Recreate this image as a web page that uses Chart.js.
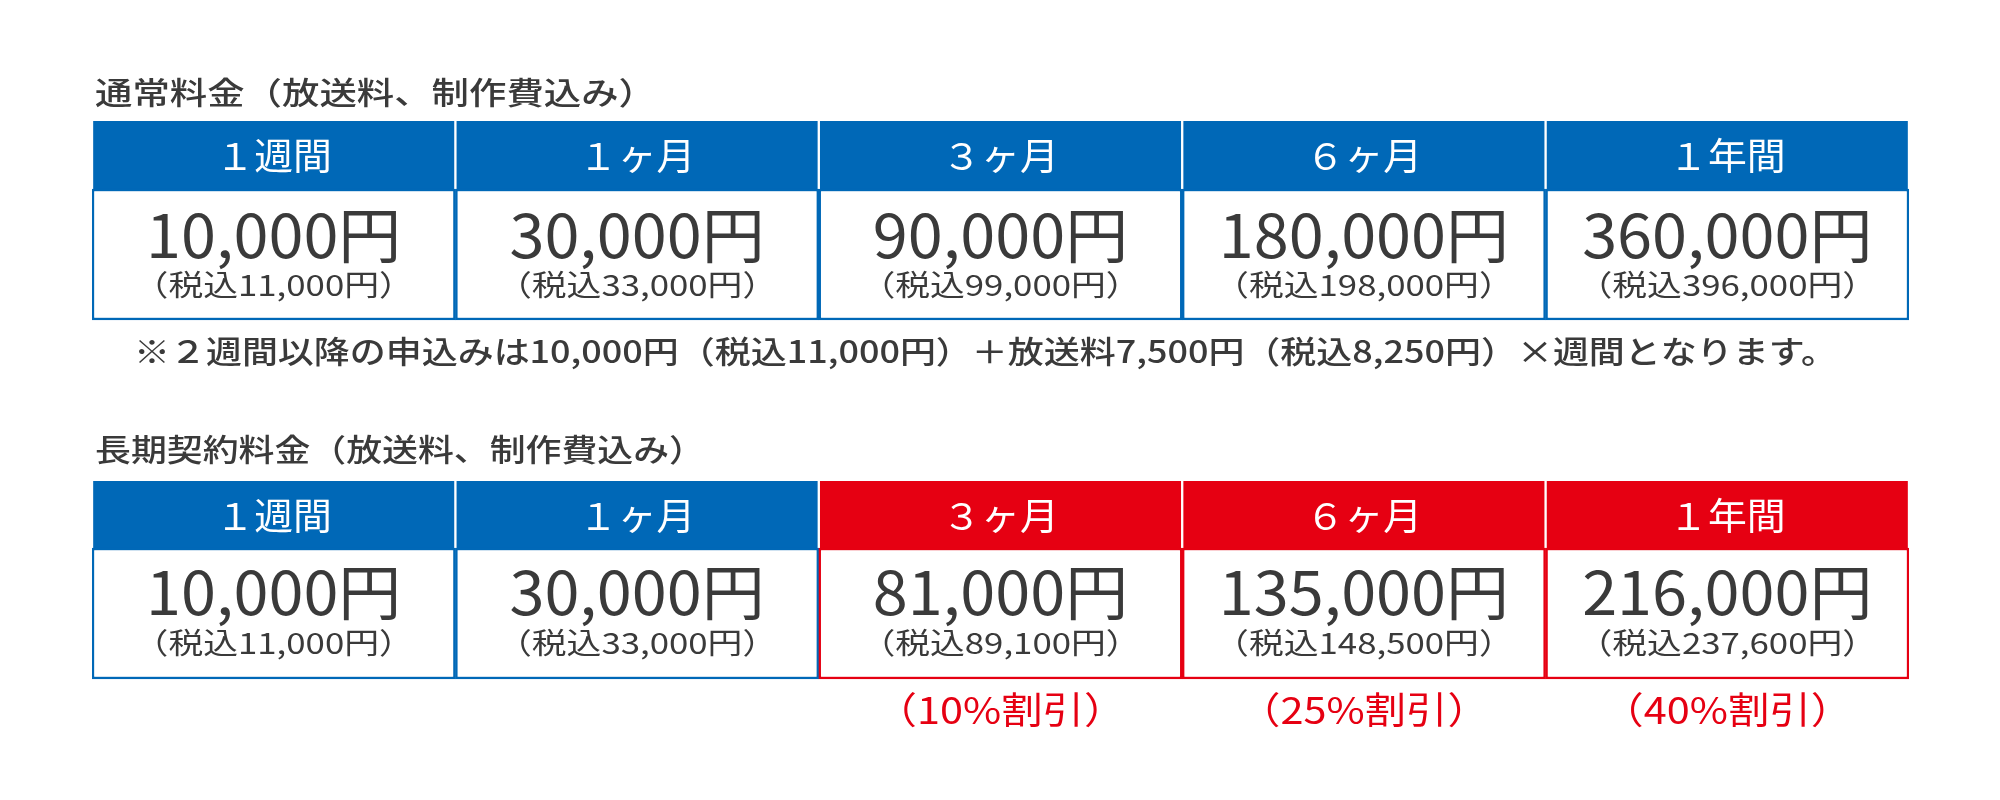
<!DOCTYPE html>
<html>
<head>
<meta charset="utf-8">
<script src="https://cdn.jsdelivr.net/npm/chart.js@4/dist/chart.umd.min.js"></script>
<style>
  body { margin: 0; background: #fff; }
  #wrap { width: 2000px; height: 800px; }
</style>
</head>
<body>
<div id="wrap"><canvas id="priceTable" width="2000" height="800"></canvas></div>
<script>
const periods = ["１週間", "１ヶ月", "３ヶ月", "６ヶ月", "１年間"];
const normalPrice = [10000, 30000, 90000, 180000, 360000];
const normalTax = [11000, 33000, 99000, 198000, 396000];
const longPrice = [10000, 30000, 81000, 135000, 216000];
const longTax = [11000, 33000, 89100, 148500, 237600];
const discounts = ["", "", "（10%割引）", "（25%割引）", "（40%割引）"];
const isDiscounted = [false, false, true, true, true];

const BLUE = "#0068b7";
const RED = "#e60012";
const TEXT = "#3a3a3a";
const FONT = "'Noto Sans CJK JP', 'Noto Sans', sans-serif";

const fmt = (n) => n.toLocaleString("en-US");

// row bands (y in px, scale reversed so 0 is the top)
const t1 = { top: 121, mid: 189, bottom: 320 };
const t2 = { top: 481, mid: 548, bottom: 679 };

const band = (a, b) => periods.map(() => [a, b]);
const longColor = isDiscounted.map((d) => (d ? RED : BLUE));

// text stretched horizontally by sx (the reference lettering is wide)
function wideText(c, text, x, y, sx) {
  c.save();
  c.translate(x, y);
  c.scale(sx, 1);
  c.fillText(text, 0, 0);
  c.restore();
}
function fitText(c, text, x, y, w) {
  wideText(c, text, x, y, w / c.measureText(text).width);
}

const tableText = {
  id: "tableText",
  afterDatasetsDraw(chart) {
    const c = chart.ctx;
    const x = chart.scales.x;
    const y = chart.scales.y;
    c.save();
    c.textBaseline = "middle";

    c.textAlign = "left";
    c.fillStyle = TEXT;
    c.font = "500 31px " + FONT;
    fitText(c, "通常料金（放送料、制作費込み）", 95, y.getPixelForValue(92), 561);
    fitText(c, "長期契約料金（放送料、制作費込み）", 95, y.getPixelForValue(449), 610);
    c.font = "500 31px " + FONT;
    fitText(c,
      "※２週間以降の申込みは10,000円（税込11,000円）＋放送料7,500円（税込8,250円）×週間となります。",
      134, y.getPixelForValue(351), 1703
    );

    c.textAlign = "center";
    periods.forEach((p, i) => {
      const cx = x.getPixelForValue(i);
      c.fillStyle = "#fff";
      c.font = "37px " + FONT;
      wideText(c, p, cx, y.getPixelForValue(156), 1.05);
      wideText(c, p, cx, y.getPixelForValue(516), 1.05);

      c.fillStyle = TEXT;
      c.font = "60px " + FONT;
      wideText(c, fmt(normalPrice[i]) + "円", cx, y.getPixelForValue(235), 1.05);
      wideText(c, fmt(longPrice[i]) + "円", cx, y.getPixelForValue(592), 1.05);
      c.font = "29px " + FONT;
      wideText(c, "（税込" + fmt(normalTax[i]) + "円）", cx, y.getPixelForValue(285), 1.2);
      wideText(c, "（税込" + fmt(longTax[i]) + "円）", cx, y.getPixelForValue(643), 1.2);

      if (discounts[i]) {
        c.fillStyle = RED;
        c.font = "37px " + FONT;
        wideText(c, discounts[i], cx, y.getPixelForValue(710), 1.12);
      }
    });
    c.restore();
  },
};

const barCommon = {
  barPercentage: 1,
  categoryPercentage: 1,
  grouped: false,
  borderSkipped: false,
};

new Chart(document.getElementById("priceTable").getContext("2d"), {
  type: "bar",
  data: {
    labels: periods,
    datasets: [
      { ...barCommon, label: "body1", data: band(t1.mid, t1.bottom),
        backgroundColor: "#fff", borderColor: BLUE, borderWidth: 2.5 },
      { ...barCommon, label: "head1", data: band(t1.top, t1.mid),
        backgroundColor: BLUE, borderColor: "#fff",
        borderWidth: { left: 1.5, right: 1.5, top: 0, bottom: 0 } },
      { ...barCommon, label: "body2", data: band(t2.mid, t2.bottom),
        backgroundColor: "#fff", borderColor: longColor, borderWidth: 2.5 },
      { ...barCommon, label: "head2", data: band(t2.top, t2.mid),
        backgroundColor: longColor, borderColor: "#fff",
        borderWidth: { left: 1.5, right: 1.5, top: 0, bottom: 0 } },
    ],
  },
  options: {
    responsive: false,
    animation: false,
    layout: { padding: { left: 92, right: 91, top: 0, bottom: 0 } },
    scales: {
      x: { display: false, offset: true },
      y: { display: false, min: 0, max: 800, reverse: true },
    },
    plugins: { legend: { display: false }, tooltip: { enabled: false } },
  },
  plugins: [tableText],
});
</script>
</body>
</html>
